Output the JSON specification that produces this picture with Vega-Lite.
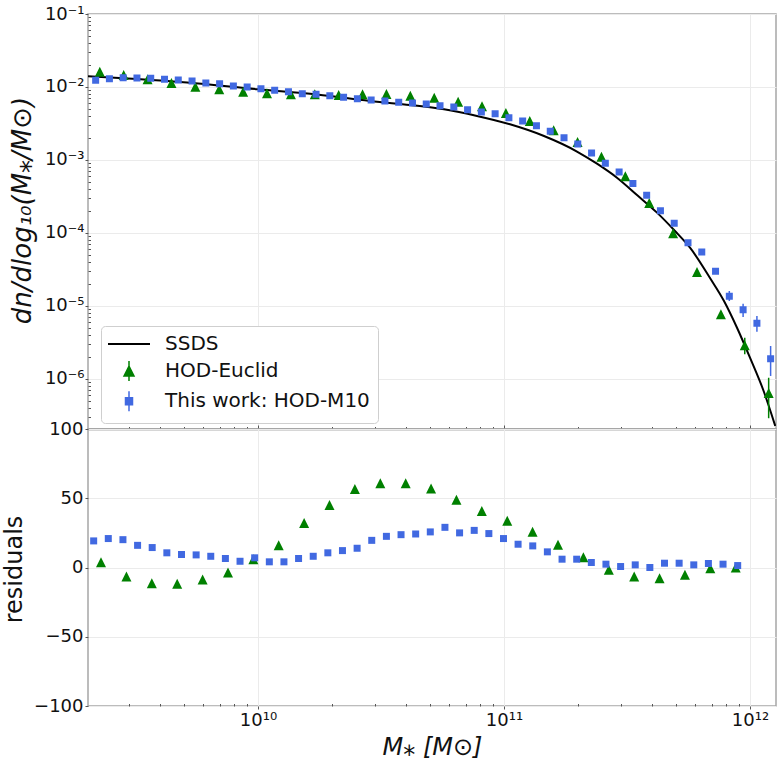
{
  "$schema": "https://vega.github.io/schema/vega-lite/v6.json",
  "background": "white",
  "autosize": {"type": "pad", "resize": false},
  "padding": {"left": 1, "top": 4, "right": 0, "bottom": 4},
  "spacing": 0,
  "bounds": "flush",
  "config": {
    "font": "DejaVu Sans",
    "view": {"stroke": "#a6a6a6", "strokeWidth": 1.5},
    "axis": {
      "labelFont": "DejaVu Sans", "labelFontSize": 18, "labelColor": "#111111",
      "titleFont": "DejaVu Sans", "titleFontSize": 24, "titleFontWeight": "normal", "titleColor": "#111111",
      "gridColor": "#ebebeb", "gridWidth": 1, "domainColor": "#a6a6a6", "domainWidth": 1.5,
      "tickColor": "#555555", "tickWidth": 1, "labelOverlap": false, "labelFlush": false
    }
  },
  "datasets": {
    "ssds": [
      {"M": 2.037e9, "n": 0.01405}, {"M": 3.223e9, "n": 0.01287}, {"M": 5.145e9, "n": 0.01152},
      {"M": 1e10, "n": 0.0093}, {"M": 1.737e10, "n": 0.00789}, {"M": 3.045e10, "n": 0.00629},
      {"M": 4.148e10, "n": 0.00567}, {"M": 5.704e10, "n": 0.00495}, {"M": 7.767e10, "n": 0.00401},
      {"M": 1.058e11, "n": 0.00308}, {"M": 1.454e11, "n": 0.00213}, {"M": 1.98e11, "n": 0.001307},
      {"M": 2.388e11, "n": 0.00089}, {"M": 2.879e11, "n": 0.000572}, {"M": 3.473e11, "n": 0.000331},
      {"M": 4.188e11, "n": 0.00019}, {"M": 4.956e11, "n": 0.0001065}, {"M": 5.704e11, "n": 6.29e-5},
      {"M": 6.878e11, "n": 2.419e-5}, {"M": 7.841e11, "n": 1.171e-5}, {"M": 8.857e11, "n": 5.04e-6},
      {"M": 1e12, "n": 1.957e-6}, {"M": 1.14e12, "n": 6.635e-7}, {"M": 1.267e12, "n": 2.27e-7}
    ],
    "euclid": [
      {"M": 2.275e9, "n": 0.01621}, {"M": 2.845e9, "n": 0.01461}, {"M": 3.558e9, "n": 0.01275},
      {"M": 4.449e9, "n": 0.01134}, {"M": 5.565e9, "n": 0.0101}, {"M": 6.958e9, "n": 0.0093},
      {"M": 8.703e9, "n": 0.00862}, {"M": 1.088e10, "n": 0.0082}, {"M": 1.361e10, "n": 0.00794},
      {"M": 1.702e10, "n": 0.00794}, {"M": 2.128e10, "n": 0.00777}, {"M": 2.661e10, "n": 0.00794},
      {"M": 3.328e10, "n": 0.00802}, {"M": 4.162e10, "n": 0.0076}, {"M": 5.205e10, "n": 0.00714},
      {"M": 6.51e10, "n": 0.00629}, {"M": 8.141e10, "n": 0.00544}, {"M": 1.018e11, "n": 0.0044},
      {"M": 1.273e11, "n": 0.00342}, {"M": 1.592e11, "n": 0.00255}, {"M": 1.991e11, "n": 0.00176},
      {"M": 2.49e11, "n": 0.00111}, {"M": 3.114e11, "n": 0.000598}, {"M": 3.894e11, "n": 0.000258},
      {"M": 4.87e11, "n": 9.91e-5}, {"M": 6.09e11, "n": 2.92e-5}, {"M": 7.617e11, "n": 7.69e-6, "lo": 6.9e-6, "hi": 8.5e-6},
      {"M": 9.522e11, "n": 2.89e-6, "lo": 2.18e-6, "hi": 3.68e-6},
      {"M": 1.191e12, "n": 6.43e-7, "lo": 2.9e-7, "hi": 1.04e-6}
    ],
    "m10": [
      {"M": 2.188e9, "n": 0.01235}, {"M": 2.489e9, "n": 0.01299}, {"M": 2.831e9, "n": 0.01341},
      {"M": 3.221e9, "n": 0.01329}, {"M": 3.664e9, "n": 0.01316}, {"M": 4.169e9, "n": 0.01275},
      {"M": 4.742e9, "n": 0.01247}, {"M": 5.395e9, "n": 0.01208}, {"M": 6.138e9, "n": 0.01134},
      {"M": 6.982e9, "n": 0.0111}, {"M": 7.943e9, "n": 0.01032}, {"M": 9.036e9, "n": 0.01},
      {"M": 1.028e10, "n": 0.00948}, {"M": 1.169e10, "n": 0.00901}, {"M": 1.33e10, "n": 0.00862},
      {"M": 1.514e10, "n": 0.00809}, {"M": 1.722e10, "n": 0.00794}, {"M": 1.959e10, "n": 0.0076},
      {"M": 2.228e10, "n": 0.00723}, {"M": 2.535e10, "n": 0.00691}, {"M": 2.884e10, "n": 0.00663},
      {"M": 3.281e10, "n": 0.00643}, {"M": 3.733e10, "n": 0.00617}, {"M": 4.246e10, "n": 0.00604},
      {"M": 4.831e10, "n": 0.00585}, {"M": 5.495e10, "n": 0.00554}, {"M": 6.252e10, "n": 0.00532},
      {"M": 7.112e10, "n": 0.00489}, {"M": 8.091e10, "n": 0.00455}, {"M": 9.204e10, "n": 0.00431},
      {"M": 1.047e11, "n": 0.0038}, {"M": 1.191e11, "n": 0.00342}, {"M": 1.355e11, "n": 0.00295},
      {"M": 1.542e11, "n": 0.00247}, {"M": 1.754e11, "n": 0.00202}, {"M": 1.995e11, "n": 0.00166},
      {"M": 2.27e11, "n": 0.00125}, {"M": 2.582e11, "n": 0.000901}, {"M": 2.938e11, "n": 0.000685},
      {"M": 3.342e11, "n": 0.000476}, {"M": 3.802e11, "n": 0.000328}, {"M": 4.325e11, "n": 0.000202},
      {"M": 4.92e11, "n": 0.000136}, {"M": 5.598e11, "n": 7.36e-5}, {"M": 6.368e11, "n": 5.49e-5},
      {"M": 7.244e11, "n": 2.99e-5},
      {"M": 8.241e11, "n": 1.36e-5, "lo": 1.171e-5, "hi": 1.605e-5},
      {"M": 9.376e11, "n": 8.9e-6, "lo": 7.07e-6, "hi": 1.075e-5},
      {"M": 1.067e12, "n": 5.79e-6, "lo": 4.45e-6, "hi": 7.29e-6},
      {"M": 1.213e12, "n": 1.9e-6, "lo": 1.1e-6, "hi": 2.83e-6}
    ],
    "res_euclid": [
      {"M": 2.301e9, "r": 3.8}, {"M": 2.919e9, "r": -6.5}, {"M": 3.702e9, "r": -11.3},
      {"M": 4.695e9, "r": -11.7}, {"M": 5.955e9, "r": -8.6}, {"M": 7.551e9, "r": -3.6},
      {"M": 9.577e9, "r": 6.0}, {"M": 1.214e10, "r": 16.0}, {"M": 1.54e10, "r": 32.2},
      {"M": 1.953e10, "r": 45.1}, {"M": 2.477e10, "r": 56.6}, {"M": 3.142e10, "r": 60.9},
      {"M": 3.985e10, "r": 60.9}, {"M": 5.053e10, "r": 57.1}, {"M": 6.409e10, "r": 48.9},
      {"M": 8.128e10, "r": 40.8}, {"M": 1.031e11, "r": 33.8}, {"M": 1.307e11, "r": 25.9},
      {"M": 1.658e11, "r": 16.5}, {"M": 2.103e11, "r": 7.4}, {"M": 2.667e11, "r": -1.7},
      {"M": 3.382e11, "r": -6.5}, {"M": 4.289e11, "r": -7.7}, {"M": 5.44e11, "r": -5.3},
      {"M": 6.899e11, "r": -0.5}, {"M": 8.75e11, "r": 0.0}
    ],
    "res_m10": [
      {"M": 2.148e9, "r": 19.2}, {"M": 2.463e9, "r": 20.9}, {"M": 2.825e9, "r": 20.1},
      {"M": 3.24e9, "r": 16.0}, {"M": 3.715e9, "r": 14.4}, {"M": 4.261e9, "r": 10.6},
      {"M": 4.887e9, "r": 9.4}, {"M": 5.605e9, "r": 9.1}, {"M": 6.427e9, "r": 8.1},
      {"M": 7.371e9, "r": 6.5}, {"M": 8.453e9, "r": 4.5}, {"M": 9.694e9, "r": 7.0},
      {"M": 1.112e10, "r": 4.1}, {"M": 1.275e10, "r": 4.1}, {"M": 1.462e10, "r": 6.5},
      {"M": 1.677e10, "r": 8.1}, {"M": 1.923e10, "r": 10.6}, {"M": 2.205e10, "r": 12.2},
      {"M": 2.529e10, "r": 13.9}, {"M": 2.9e10, "r": 19.6}, {"M": 3.327e10, "r": 22.5},
      {"M": 3.815e10, "r": 23.7}, {"M": 4.375e10, "r": 24.2}, {"M": 5.017e10, "r": 25.7},
      {"M": 5.754e10, "r": 29.0}, {"M": 6.599e10, "r": 25.0}, {"M": 7.568e10, "r": 26.8},
      {"M": 8.679e10, "r": 24.5}, {"M": 9.954e10, "r": 20.9}, {"M": 1.141e11, "r": 16.8},
      {"M": 1.309e11, "r": 15.6}, {"M": 1.501e11, "r": 11.3}, {"M": 1.722e11, "r": 6.0},
      {"M": 1.975e11, "r": 6.0}, {"M": 2.265e11, "r": 3.6}, {"M": 2.597e11, "r": 2.4},
      {"M": 2.979e11, "r": 0.7}, {"M": 3.416e11, "r": 1.9}, {"M": 3.917e11, "r": 0.0},
      {"M": 4.493e11, "r": 3.1}, {"M": 5.152e11, "r": 3.1}, {"M": 5.909e11, "r": 1.9},
      {"M": 6.776e11, "r": 2.9}, {"M": 7.771e11, "r": 2.4}, {"M": 8.913e11, "r": 1.4}
    ]
  },
  "vconcat": [
    {
      "width": 688,
      "height": 415,
      "layer": [
        {
          "data": {"name": "ssds"},
          "mark": {"type": "line", "color": "black", "strokeWidth": 2, "interpolate": "monotone", "clip": true},
          "encoding": {
            "x": {"field": "M", "type": "quantitative", "scale": {"type": "log", "domain": [2.037e9, 1.2757e12], "nice": false},
              "axis": {"values": [3e9,4e9,5e9,6e9,7e9,8e9,9e9,1e10,2e10,3e10,4e10,5e10,6e10,7e10,8e10,9e10,1e11,2e11,3e11,4e11,5e11,6e11,7e11,8e11,9e11,1e12],
                "labels": false, "title": null, "domain": true, "domainColor": "#5c5c5c", "grid": true,
                "gridOpacity": {"condition": {"test": "abs(log(datum.value)/LN10 - round(log(datum.value)/LN10)) < 0.001", "value": 1}, "value": 0},
                "tickSize": {"condition": {"test": "abs(log(datum.value)/LN10 - round(log(datum.value)/LN10)) < 0.001", "value": -4}, "value": -2.5}}},
            "y": {"field": "n", "type": "quantitative", "scale": {"type": "log", "domain": [2.065e-7, 0.1], "nice": false},
              "axis": {"values": [0.1,0.09,0.08,0.07,0.06,0.05,0.04,0.03,0.02,0.01,0.009,0.008,0.007,0.006,0.005,0.004,0.003,0.002,0.001,0.0009,0.0008,0.0007,0.0006,0.0005,0.0004,0.0003,0.0002,0.0001,9e-5,8e-5,7e-5,6e-5,5e-5,4e-5,3e-5,2e-5,1e-5,9e-6,8e-6,7e-6,6e-6,5e-6,4e-6,3e-6,2e-6,1e-6,9e-7,8e-7,7e-7,6e-7,5e-7,4e-7,3e-7],
                "labelExpr": "datum.value == 0.1 ? '10⁻¹' : datum.value == 0.01 ? '10⁻²' : datum.value == 0.001 ? '10⁻³' : datum.value == 0.0001 ? '10⁻⁴' : datum.value == 0.00001 ? '10⁻⁵' : datum.value == 0.000001 ? '10⁻⁶' : ''",
                "labelPadding": 1, "title": "dn/dlog₁₀(M⁎/M⊙)", "titleFontStyle": "italic", "titleFontSize": 26, "titleAngle": 270, "titleAlign": "center", "titleBaseline": "middle", "titleX": -66, "titleY": 196,
                "domain": false, "grid": true,
                "gridOpacity": {"condition": {"test": "abs(log(datum.value)/LN10 - round(log(datum.value)/LN10)) < 0.001", "value": 1}, "value": 0},
                "tickSize": {"condition": {"test": "abs(log(datum.value)/LN10 - round(log(datum.value)/LN10)) < 0.001", "value": 3}, "value": -2.5}}},
            "color": {"datum": "SSDS", "type": "nominal",
              "scale": {"domain": ["SSDS", "HOD-Euclid", "This work: HOD-M10"], "range": ["black", "green", "royalblue"]},
              "legend": {"title": null, "orient": "none", "legendX": 13, "legendY": 312, "direction": "vertical",
                "padding": 8, "strokeColor": "#cfcfcf", "fillColor": "white", "cornerRadius": 4,
                "labelFont": "DejaVu Sans", "labelFontSize": 20, "labelColor": "#111111", "labelLimit": 400,
                "symbolSize": 400, "symbolOffset": 10, "labelOffset": 26, "rowPadding": 4.1,
                "encode": {"symbols": {"update": {
                  "shape": {"signal": "datum.value === 'SSDS' ? 'M-2.1,0H2.1' : datum.value === 'HOD-Euclid' ? 'M0,-1V1M-0.5,0.5L0,-0.5L0.5,0.5Z' : 'M0,-1V1M-0.35,-0.35H0.35V0.35H-0.35Z'"},
                  "stroke": {"signal": "datum.value === 'SSDS' ? 'black' : datum.value === 'HOD-Euclid' ? 'green' : 'royalblue'"},
                  "fill": {"signal": "datum.value === 'SSDS' ? 'transparent' : datum.value === 'HOD-Euclid' ? 'green' : 'royalblue'"},
                  "strokeWidth": {"signal": "datum.value === 'SSDS' ? 2 : 1.5"},
                  "opacity": {"value": 1},
                  "size": {"value": 400}
                }}}}}
          }
        },
        {
          "data": {"name": "euclid"},
          "transform": [{"filter": "datum.lo != null"}],
          "mark": {"type": "rule", "color": "green", "strokeWidth": 1.5},
          "encoding": {
            "x": {"field": "M", "type": "quantitative", "scale": {"type": "log", "domain": [2.037e9, 1.2757e12], "nice": false}},
            "y": {"field": "lo", "type": "quantitative", "scale": {"type": "log", "domain": [2.065e-7, 0.1], "nice": false}},
            "y2": {"field": "hi"}
          }
        },
        {
          "data": {"name": "euclid"},
          "mark": {"type": "point", "shape": "M0,-1V1M-0.5,0.5L0,-0.5L0.5,0.5Z", "filled": true, "size": 400, "opacity": 1},
          "encoding": {
            "x": {"field": "M", "type": "quantitative", "scale": {"type": "log", "domain": [2.037e9, 1.2757e12], "nice": false}},
            "y": {"field": "n", "type": "quantitative", "scale": {"type": "log", "domain": [2.065e-7, 0.1], "nice": false}},
            "color": {"datum": "HOD-Euclid", "type": "nominal"}
          }
        },
        {
          "data": {"name": "m10"},
          "transform": [{"filter": "datum.lo != null"}],
          "mark": {"type": "rule", "color": "royalblue", "strokeWidth": 1.5},
          "encoding": {
            "x": {"field": "M", "type": "quantitative", "scale": {"type": "log", "domain": [2.037e9, 1.2757e12], "nice": false}},
            "y": {"field": "lo", "type": "quantitative", "scale": {"type": "log", "domain": [2.065e-7, 0.1], "nice": false}},
            "y2": {"field": "hi"}
          }
        },
        {
          "data": {"name": "m10"},
          "mark": {"type": "point", "shape": "M0,-1V1M-0.35,-0.35H0.35V0.35H-0.35Z", "filled": true, "size": 400, "opacity": 1},
          "encoding": {
            "x": {"field": "M", "type": "quantitative", "scale": {"type": "log", "domain": [2.037e9, 1.2757e12], "nice": false}},
            "y": {"field": "n", "type": "quantitative", "scale": {"type": "log", "domain": [2.065e-7, 0.1], "nice": false}},
            "color": {"datum": "This work: HOD-M10", "type": "nominal"}
          }
        }
      ]
    },
    {
      "width": 688,
      "height": 277,
      "layer": [
        {
          "mark": {"type": "rule", "color": "#4a4a4a", "strokeWidth": 2},
          "encoding": {
            "y": {"datum": 0, "type": "quantitative", "scale": {"domain": [-100, 100], "nice": false},
              "axis": {"values": [-100, -50, 0, 50, 100], "title": "residuals", "titleAngle": 270, "titleAlign": "center", "titleBaseline": "middle",
                "titleX": -73.5, "titleY": 140, "domain": false, "grid": true, "tickSize": 3, "labelPadding": 2}}
          }
        },
        {
          "data": {"name": "res_euclid"},
          "mark": {"type": "point", "shape": "M-0.5,0.5L0,-0.5L0.5,0.5Z", "filled": true, "size": 400, "opacity": 1, "color": "green"},
          "encoding": {
            "x": {"field": "M", "type": "quantitative", "scale": {"type": "log", "domain": [2.037e9, 1.2757e12], "nice": false},
              "axis": {"values": [3e9,4e9,5e9,6e9,7e9,8e9,9e9,1e10,2e10,3e10,4e10,5e10,6e10,7e10,8e10,9e10,1e11,2e11,3e11,4e11,5e11,6e11,7e11,8e11,9e11,1e12],
                "labelExpr": "datum.value == 1e10 ? '10¹⁰' : datum.value == 1e11 ? '10¹¹' : datum.value == 1e12 ? '10¹²' : ''",
                "labelPadding": 2, "title": "M⁎ [M⊙]", "titleFontStyle": "italic", "titlePadding": 6,
                "domain": false, "grid": true,
                "gridOpacity": {"condition": {"test": "abs(log(datum.value)/LN10 - round(log(datum.value)/LN10)) < 0.001", "value": 1}, "value": 0},
                "tickSize": {"condition": {"test": "abs(log(datum.value)/LN10 - round(log(datum.value)/LN10)) < 0.001", "value": 3}, "value": -2.5}}},
            "y": {"field": "r", "type": "quantitative", "scale": {"domain": [-100, 100], "nice": false},
              "axis": {"values": [-100, -50, 0, 50, 100], "title": "residuals", "titleAngle": 270, "titleAlign": "center", "titleBaseline": "middle",
                "titleX": -73.5, "titleY": 140, "domain": false, "grid": true, "tickSize": 3, "labelPadding": 2}}
          }
        },
        {
          "data": {"name": "res_m10"},
          "mark": {"type": "point", "shape": "M-0.35,-0.35H0.35V0.35H-0.35Z", "filled": true, "size": 400, "opacity": 1, "color": "royalblue"},
          "encoding": {
            "x": {"field": "M", "type": "quantitative", "scale": {"type": "log", "domain": [2.037e9, 1.2757e12], "nice": false}},
            "y": {"field": "r", "type": "quantitative", "scale": {"domain": [-100, 100], "nice": false}}
          }
        }
      ]
    }
  ],
  "resolve": {"scale": {"color": "independent"}, "legend": {"color": "independent"}}
}
